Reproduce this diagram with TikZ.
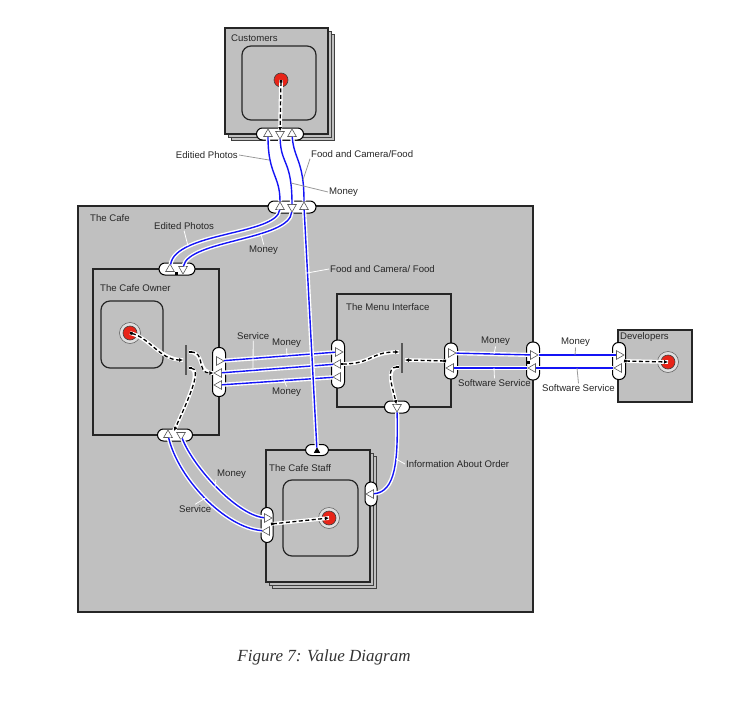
\documentclass[tikz,border=0pt]{standalone}
\usepackage{fontspec}
\setmainfont{Liberation Serif}
\setsansfont{Liberation Sans}
\usetikzlibrary{shapes.geometric,arrows.meta}
\definecolor{cafegrey}{RGB}{192,192,192}
\definecolor{vxblue}{RGB}{20,20,245}
\definecolor{stimred}{RGB}{232,36,24}

\begin{document}
\begin{tikzpicture}[x=1pt, y=-1pt,
    % Define styles - actors, ports, value exchanges and dependency paths
    actor/.style={draw=black!85, fill=cafegrey, line width=1.3pt},
    stack/.style={draw=black!75, fill=cafegrey, line width=0.8pt},
    inbox/.style={draw=black!85, fill=cafegrey, line width=1.2pt, rounded corners=9pt},
    port/.style={rectangle, rounded corners=6pt, draw=black, fill=white, line width=1pt, inner sep=0pt},
    tri/.style={regular polygon, regular polygon sides=3, draw=black!65, fill=white, line width=0.6pt, inner sep=0pt, minimum size=10pt},
    tup/.style={tri},
    tdown/.style={tri, shape border rotate=180},
    tright/.style={tri, shape border rotate=-90},
    tleft/.style={tri, shape border rotate=90},
    pdot/.style={rectangle, fill=black, minimum size=3pt, inner sep=0pt},
    ring/.style={circle, draw=black!60, fill=gray!25, line width=0.6pt, minimum size=21pt, inner sep=0pt},
    stim/.style={circle, draw=black!75, fill=stimred, line width=0.6pt, minimum size=14pt, inner sep=0pt},
    orbar/.style={rectangle, fill=black!65, minimum width=1.2pt, minimum height=30pt, inner sep=0pt},
    vx/.style={draw=vxblue, line width=1.4pt, preaction={draw=white, line width=4.2pt}},
    dep/.style={draw=black, line width=1.3pt, dash pattern=on 4pt off 2.5pt, {Square[length=2.6pt,width=2.6pt]}-{Latex[length=4pt,width=4pt]}, preaction={draw=white, line width=3.8pt, solid, -}},
    lbl/.style={font=\sffamily\fontsize{9.6}{11}\selectfont, text=black!85, inner sep=1pt, anchor=west},
    leadw/.style={draw=white, line width=0.8pt},
    leadg/.style={draw=black!40, line width=0.8pt}
]

\useasboundingbox (0,0) rectangle (744,717);

% Customers (stacked actor)
\draw[stack] (231,34) rectangle (334,140);
\draw[stack] (228,31) rectangle (331,137);
\draw[actor] (225,28) rectangle (328,134);
\draw[inbox] (242,46) rectangle (316,120);
\node[lbl] (cust_lbl) at (230,38) {Customers};

% The Cafe
\draw[actor] (78,206) rectangle (533,612);
\node[lbl] (cafe_lbl) at (89,218) {The Cafe};

% The Cafe Owner
\draw[actor] (93,269) rectangle (219,435);
\draw[inbox] (101,301) rectangle (163,368);
\node[lbl] (own_lbl) at (99,288) {The Cafe Owner};

% The Menu Interface
\draw[actor] (337,294) rectangle (451,407);
\node[lbl] (menu_lbl) at (345,307) {The Menu Interface};

% The Cafe Staff (stacked actor)
\draw[stack] (272,456) rectangle (376,588);
\draw[stack] (269,453) rectangle (373,585);
\draw[actor] (266,450) rectangle (370,582);
\draw[inbox] (283,480) rectangle (358,556);
\node[lbl] (staff_lbl) at (268,468) {The Cafe Staff};

% Developers
\draw[actor] (618,330) rectangle (692,402);
\node[lbl] (dev_lbl) at (619,337) {Developers};

% Ports
\node[port, minimum width=47pt, minimum height=12pt] (cust_port) at (280,134) {};
\node[port, minimum width=48pt, minimum height=12pt] (cafe_tport) at (292,207) {};
\node[port, minimum width=36pt, minimum height=12pt] (own_tport) at (177,269) {};
\node[port, minimum width=13pt, minimum height=49pt] (own_rport) at (219,372) {};
\node[port, minimum width=35pt, minimum height=12pt] (own_dport) at (175,435) {};
\node[port, minimum width=13pt, minimum height=48pt] (menu_lport) at (338,364) {};
\node[port, minimum width=13pt, minimum height=36pt] (menu_rport) at (451,361) {};
\node[port, minimum width=25pt, minimum height=12pt] (menu_dport) at (397,407) {};
\node[port, minimum width=13pt, minimum height=38pt] (cafe_rport) at (533,361) {};
\node[port, minimum width=13pt, minimum height=37pt] (dev_port) at (619,361) {};
\node[port, minimum width=12pt, minimum height=35pt] (staff_lport) at (267,525) {};
\node[port, minimum width=12pt, minimum height=24pt] (staff_rport) at (371,494) {};
\node[port, minimum width=23pt, minimum height=11pt] (staff_tport) at (317,450) {};

% Port directions
\node[tup] (cust_a) at (268,134) {};
\node[tdown] (cust_b) at (280,134) {};
\node[tup] (cust_c) at (292,134) {};
\node[tup] (cafe_t_a) at (280,207) {};
\node[tdown] (cafe_t_b) at (292,207) {};
\node[tup] (cafe_t_c) at (304,207) {};
\node[tup] (own_t_a) at (170,269) {};
\node[tdown] (own_t_b) at (183,269) {};
\node[tright] (own_r_a) at (219,361) {};
\node[tleft] (own_r_b) at (219,373) {};
\node[tleft] (own_r_c) at (219,385) {};
\node[tup] (own_d_a) at (168,435) {};
\node[tdown] (own_d_b) at (181,435) {};
\node[tright] (menu_l_a) at (338,352) {};
\node[tleft] (menu_l_b) at (338,364) {};
\node[tleft] (menu_l_c) at (338,377) {};
\node[tright] (menu_r_a) at (451,353) {};
\node[tleft] (menu_r_b) at (451,368) {};
\node[tdown] (menu_d_a) at (397,407) {};
\node[tright] (cafe_r_a) at (533,355) {};
\node[tleft] (cafe_r_b) at (533,368) {};
\node[tright] (dev_a) at (619,355) {};
\node[tleft] (dev_b) at (619,368) {};
\node[tright] (staff_l_a) at (267,518) {};
\node[tleft] (staff_l_b) at (267,531) {};
\node[tleft] (staff_r_a) at (371,494) {};
\node[tup, fill=black, draw=black, minimum size=6pt] (staff_t_a) at (317,451) {};
\node[pdot] (own_t_dot) at (176,273) {};
\node[pdot] (cafe_r_dot) at (528,362) {};

% Stimuli
\node[stim] (cust_dot) at (281,80) {};
\node[ring] (own_ring) at (130,333) {};
\node[stim] (own_dot) at (130,333) {};
\node[ring] (staff_ring) at (329,518) {};
\node[stim] (staff_dot) at (329,518) {};
\node[ring] (dev_ring) at (668,362) {};
\node[stim] (dev_dot) at (668,362) {};

% OR forks
\node[orbar] (own_bar) at (186,360) {};
\node[orbar] (menu_bar) at (402,358) {};
\coordinate (own_bar_i) at (183,360);
\coordinate (own_bar_o1) at (189,352);
\coordinate (own_bar_o2) at (189,368);
\coordinate (own_d_pt) at (174,431);
\coordinate (menu_bar_i1) at (399,352);
\coordinate (menu_bar_o1) at (399,367);
\coordinate (menu_bar_i2) at (405,360);
\coordinate (menu_r_pt) at (446,361);
\coordinate (dev_pt) at (624,361);
\coordinate (staff_l_pt) at (271,524);

% Value exchanges
\draw[vx] (cust_a) .. controls (268,175) and (280,175) .. (cafe_t_a);
\draw[vx] (cust_b) .. controls (281,165) and (292,160) .. (cafe_t_b);
\draw[vx] (cust_c) .. controls (294,160) and (304,160) .. (cafe_t_c);
\draw[vx] (cafe_t_a) .. controls (277,235) and (175,232) .. (own_t_a);
\draw[vx] (cafe_t_b) .. controls (290,240) and (188,240) .. (own_t_b);
\draw[vx] (own_r_a) -- (menu_l_a);
\draw[vx] (own_r_b) -- (menu_l_b);
\draw[vx] (own_r_c) -- (menu_l_c);
\draw[vx] (cafe_t_c) -- (staff_t_a);
\draw[vx] (menu_r_a) -- (cafe_r_a);
\draw[vx] (menu_r_b) -- (cafe_r_b);
\draw[vx] (cafe_r_a) -- (dev_a);
\draw[vx] (cafe_r_b) -- (dev_b);
\draw[vx] (own_d_a) .. controls (178,478) and (225,528) .. (staff_l_b);
\draw[vx] (own_d_b) .. controls (192,465) and (236,515) .. (staff_l_a);
\draw[vx] (menu_d_a) .. controls (398,460) and (396,492) .. (staff_r_a);

% Dependency paths
\draw[dep] (cust_dot.center) -- (cust_b);
\draw[dep] (own_dot.center) .. controls (150,338) and (160,360) .. (own_bar_i);
\draw[dep] (own_bar_o1) .. controls (206,352) and (196,373) .. (own_r_b);
\draw[dep] (own_bar_o2) .. controls (203,368) and (188,400) .. (own_d_pt);
\draw[dep] (menu_l_b) .. controls (372,364) and (370,352) .. (menu_bar_i1);
\draw[dep] (menu_r_pt) -- (menu_bar_i2);
\draw[dep] (menu_bar_o1) .. controls (385,367) and (392,385) .. (menu_d_a);
\draw[dep] (dev_pt) -- (dev_dot.center);
\draw[dep] (staff_l_pt) -- (staff_dot.center);

% Labels outside the cafe
\node[lbl, anchor=east] (lbl_edit_out) at (239,155) {Editied Photos};
\coordinate (pt_edit_out) at (269,160);
\draw[leadg] (lbl_edit_out.east) -- (pt_edit_out);
\node[lbl] (lbl_food_out) at (310,154) {Food and Camera/Food};
\coordinate (pt_food_out) at (303,180);
\draw[leadg] (lbl_food_out.south west) -- (pt_food_out);
\node[lbl] (lbl_money_out) at (328,192) {Money};
\coordinate (pt_money_out) at (291,183);
\draw[leadg] (lbl_money_out.west) -- (pt_money_out);
\node[lbl] (lbl_money_d) at (560,342) {Money};
\coordinate (pt_money_d) at (575,355);
\draw[leadg] (lbl_money_d.south) -- (pt_money_d);
\node[lbl] (lbl_soft_b) at (541,388) {Software Service};
\coordinate (pt_soft_b) at (577,368);
\draw[leadg] (lbl_soft_b.north) -- (pt_soft_b);

% Labels inside the cafe
\node[lbl] (lbl_edit_in) at (153,226) {Edited Photos};
\coordinate (pt_edit_in) at (188,246);
\draw[leadw] (lbl_edit_in.south) -- (pt_edit_in);
\node[lbl] (lbl_money_in) at (248,250) {Money};
\coordinate (pt_money_in) at (261,234);
\draw[leadw] (lbl_money_in.north) -- (pt_money_in);
\node[lbl] (lbl_food_in) at (329,269) {Food and Camera/ Food};
\coordinate (pt_food_in) at (307,273);
\draw[leadw] (lbl_food_in.west) -- (pt_food_in);
\node[lbl] (lbl_service_a) at (236,336) {Service};
\coordinate (pt_service_a) at (253,370);
\draw[leadw] (lbl_service_a.south) -- (pt_service_a);
\node[lbl] (lbl_money_a) at (271,343) {Money};
\coordinate (pt_money_a) at (287,356);
\draw[leadw] (lbl_money_a.south) -- (pt_money_a);
\node[lbl] (lbl_money_b) at (271,392) {Money};
\coordinate (pt_money_b) at (284,380);
\draw[leadw] (lbl_money_b.north) -- (pt_money_b);
\node[lbl] (lbl_money_c) at (480,341) {Money};
\coordinate (pt_money_c) at (494,354);
\draw[leadw] (lbl_money_c.south) -- (pt_money_c);
\node[lbl] (lbl_soft_a) at (457,383) {Software Service};
\coordinate (pt_soft_a) at (494,368);
\draw[leadw] (lbl_soft_a.north) -- (pt_soft_a);
\node[lbl] (lbl_info) at (405,464) {Information About Order};
\coordinate (pt_info) at (396,459);
\draw[leadw] (lbl_info.west) -- (pt_info);
\node[lbl] (lbl_money_e) at (216,474) {Money};
\coordinate (pt_money_e) at (215,487);
\draw[leadw] (lbl_money_e.south west) -- (pt_money_e);
\node[lbl] (lbl_service_b) at (178,509) {Service};
\coordinate (pt_service_b) at (207,497);
\draw[leadw] (lbl_service_b.north) -- (pt_service_b);

% Caption
\node[font=\itshape\fontsize{17}{20}\selectfont, text=black!80] (caption) at (324,657) {Figure 7: Value Diagram};

\end{tikzpicture}
\end{document}
